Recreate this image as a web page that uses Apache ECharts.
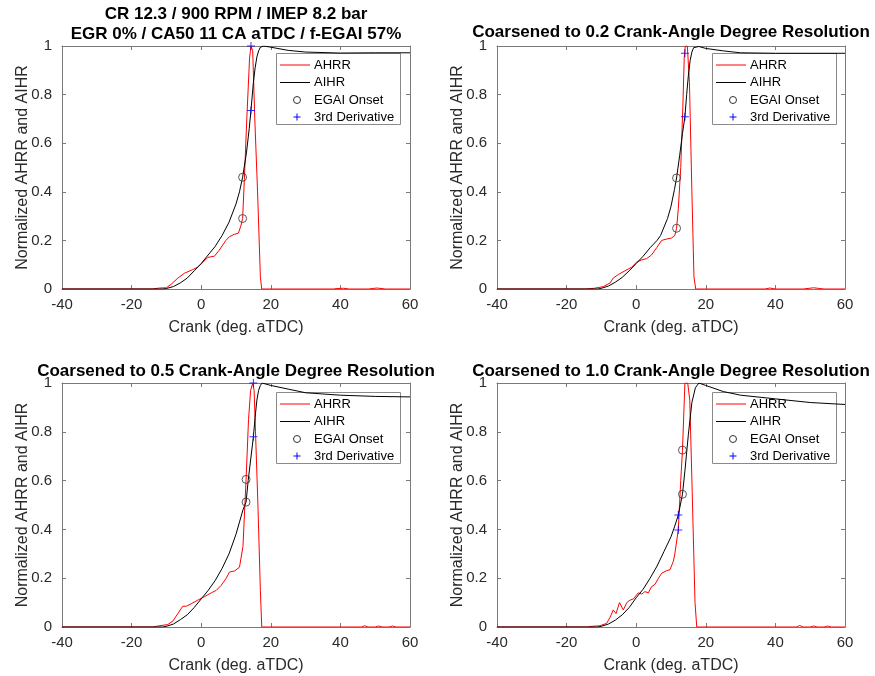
<!DOCTYPE html>
<html>
<head>
<meta charset="utf-8">
<script src="https://cdn.jsdelivr.net/npm/echarts@6/dist/echarts.min.js"></script>
<style>html,body{margin:0;padding:0;background:#fff;}#c{width:875px;height:676px;}</style>
</head>
<body>
<div id="c"></div>
<script>
// ---------- data ----------
const xTicks = [-40, -20, 0, 20, 40, 60];
const yTicks = [0, 0.2, 0.4, 0.6, 0.8, 1];
const seriesNames = ['AHRR', 'AIHR', 'EGAI Onset', '3rd Derivative'];
const titles = [
  'CR 12.3 / 900 RPM / IMEP 8.2 bar\nEGR 0% / CA50 11 CA aTDC / f-EGAI 57%',
  'Coarsened to 0.2 Crank-Angle Degree Resolution',
  'Coarsened to 0.5 Crank-Angle Degree Resolution',
  'Coarsened to 1.0 Crank-Angle Degree Resolution'
];

// Panel 1 (original)
const p1AhrrX = [-40,-14,-12,-10,-8.6,-6.7,-4.8,-2.4,-1,0.5,1.9,3.8,5.2,7.1,8.1,9.5,10.7,11.4,11.9,12.4,13.1,13.9,14.3,14.8,15.4,16.2,17.0,17.4,38,39,40.9,42.5,48,50.5,53,60];
const p1AhrrY = [0,0,0.004,0.005,0.02,0.045,0.065,0.08,0.09,0.11,0.13,0.135,0.16,0.2,0.215,0.225,0.23,0.26,0.29,0.45,0.7,0.95,1.0,0.98,0.7,0.4,0.05,0,0,0.002,0.003,0,0,0.004,0,0];
const p1AihrX = [-40,-11,-10,-8,-6,-4,-2,0,2,4,6,8,10,11,11.9,13,13.8,14.3,15,15.5,16,16.5,17,18,20,25,30,40,50,60];
const p1AihrY = [0,0,0.002,0.01,0.025,0.045,0.075,0.105,0.14,0.175,0.22,0.275,0.35,0.40,0.46,0.56,0.66,0.735,0.85,0.91,0.955,0.98,0.995,1.0,0.995,0.982,0.975,0.971,0.972,0.972];
const p1OnsetX = [11.9, 11.9];
const p1OnsetY = [0.46, 0.29];
const p1DerivX = [14.3, 14.3];
const p1DerivY = [1.0, 0.735];

// Panel 2 (0.2 CAD)
const p2AhrrX = [-40,-14.5,-12,-9.4,-7.5,-6.6,-5.1,-3.2,-1.3,0.1,1.6,3,4.4,5.9,7.3,8.6,10.2,11.1,11.6,12.1,12.8,13.4,13.8,14.1,14.7,15.3,16.0,16.6,17.1,37,38.4,40,48,51,54,60];
const p2AhrrY = [0,0,0.003,0.01,0.025,0.045,0.06,0.075,0.09,0.11,0.12,0.125,0.14,0.17,0.2,0.205,0.21,0.22,0.25,0.33,0.5,0.75,0.95,1.0,1.0,0.85,0.4,0.05,0,0,0.004,0,0,0.005,0,0];
const p2AihrX = [-40,-11,-10,-8,-6,-4,-2,0,2,4,6,7,8,9,10,11,11.6,12.5,13.3,14.0,14.5,15,15.5,16,16.5,17,18,20,25,30,40,50,60];
const p2AihrY = [0,0,0.003,0.012,0.028,0.048,0.075,0.105,0.135,0.17,0.2,0.22,0.255,0.29,0.34,0.41,0.457,0.55,0.64,0.709,0.8,0.88,0.94,0.975,0.993,1.0,0.998,0.99,0.98,0.972,0.97,0.97,0.97];
const p2OnsetX = [11.6, 11.6];
const p2OnsetY = [0.457, 0.25];
const p2DerivX = [14.0, 14.0];
const p2DerivY = [0.97, 0.709];

// Panel 3 (0.5 CAD)
const p3AhrrX = [-40,-14,-12.9,-9.6,-8.1,-6.7,-5.3,-4.3,-2.9,-1,1,2.9,4.3,5.7,7.2,8.1,9.6,11,12,12.9,13.6,14.2,14.8,15.2,15.6,16.3,17.0,17.4,46,47,48,50,51,52,54,55,56,60];
const p3AhrrY = [0,0,0.003,0.01,0.025,0.055,0.085,0.085,0.095,0.11,0.125,0.14,0.15,0.17,0.2,0.225,0.23,0.245,0.33,0.605,0.85,0.97,1.0,0.97,0.8,0.5,0.15,0,0,0.005,0,0,0.004,0,0,0.004,0,0];
const p3AihrX = [-40,-11,-10,-8,-6,-4,-2,0,2,4,6,8,10,11,12,12.9,13.5,14,15,15.5,16,16.5,17,17.5,20,25,30,40,50,60];
const p3AihrY = [0,0,0.003,0.012,0.03,0.05,0.08,0.115,0.15,0.19,0.24,0.3,0.38,0.43,0.48,0.512,0.6,0.66,0.78,0.86,0.93,0.97,0.99,1.0,0.99,0.975,0.96,0.95,0.945,0.943];
const p3OnsetX = [12.9, 12.9];
const p3OnsetY = [0.605, 0.512];
const p3DerivX = [15.0, 15.0];
const p3DerivY = [1.0, 0.78];

// Panel 4 (1.0 CAD)
const p4AhrrX = [-40,-14,-13.3,-10.4,-8.5,-7.5,-6.6,-5.8,-4.8,-3.7,-2.7,-1.8,-0.8,0.6,1.6,2.5,3.5,4.4,5.4,6.4,7.3,8.6,9.7,10.7,11.1,12.1,12.8,13.3,14.0,14.8,15.4,16.1,16.9,17.4,46,47,48,50,51,52,54,55,56,60];
const p4AhrrY = [0,0,0.002,0.005,0.015,0.04,0.07,0.055,0.1,0.07,0.1,0.11,0.115,0.14,0.135,0.145,0.14,0.165,0.175,0.2,0.22,0.23,0.235,0.27,0.3,0.398,0.6,0.725,1.0,1.0,0.93,0.55,0.1,0,0,0.006,0,0,0.004,0,0,0.004,0,0];
const p4AihrX = [-40,-11,-10,-8,-6,-4,-2,0,2,4,6,8,10,11,12.1,13.3,14,15,16,17,18,20,25,30,40,50,60];
const p4AihrY = [0,0,0.003,0.012,0.028,0.05,0.08,0.12,0.155,0.2,0.25,0.31,0.37,0.41,0.459,0.544,0.64,0.79,0.92,0.98,1.0,0.99,0.965,0.95,0.935,0.92,0.912];
const p4OnsetX = [13.3, 13.3];
const p4OnsetY = [0.725, 0.544];
const p4DerivX = [12.1, 12.1];
const p4DerivY = [0.459, 0.398];

// ---------- build ----------
const panels = [
  {ahrr:[p1AhrrX,p1AhrrY], aihr:[p1AihrX,p1AihrY], onset:[p1OnsetX,p1OnsetY], deriv:[p1DerivX,p1DerivY]},
  {ahrr:[p2AhrrX,p2AhrrY], aihr:[p2AihrX,p2AihrY], onset:[p2OnsetX,p2OnsetY], deriv:[p2DerivX,p2DerivY]},
  {ahrr:[p3AhrrX,p3AhrrY], aihr:[p3AihrX,p3AihrY], onset:[p3OnsetX,p3OnsetY], deriv:[p3DerivX,p3DerivY]},
  {ahrr:[p4AhrrX,p4AhrrY], aihr:[p4AihrX,p4AihrY], onset:[p4OnsetX,p4OnsetY], deriv:[p4DerivX,p4DerivY]}
];
const zip = (a) => a[0].map((x, i) => [x, a[1][i]]);

const FONT = '"Liberation Sans", Arial, Helvetica, sans-serif';
const AX = '#7a7a7a';
const LBL = '#2a2a2a';
const RED = '#ff0000', BLACK = '#000000', BLUE = '#0000ff', MARK = '#333333';
const gridPos = [
  {left: 62, top: 46, width: 348, height: 243},
  {left: 497, top: 46, width: 348, height: 243},
  {left: 62, top: 383, width: 348, height: 244},
  {left: 497, top: 383, width: 348, height: 244}
];
const legendPos = [[276, 53], [712, 53], [276, 392], [712, 392]];
const titleCenters = [[236, 4, 'top'], [671, 32, 'middle'], [236, 371, 'middle'], [671, 371, 'middle']];

const grids = [], xAxes = [], yAxes = [], series = [], graphics = [];
const plusPath = 'path://M0,3.5H8V4.5H0Z M3.5,0H4.5V8H3.5Z';

function legendGroup(lx, ly) {
  const rows = [12, 29.5, 47, 64];
  const ch = [
    {type: 'rect', shape: {x: 0.5, y: 0.5, width: 124, height: 71},
      style: {fill: '#fff', stroke: '#8a8a8a', lineWidth: 1}},
    {type: 'line', shape: {x1: 4, y1: rows[0], x2: 34, y2: rows[0]}, style: {stroke: RED, lineWidth: 1}},
    {type: 'line', shape: {x1: 4, y1: rows[1], x2: 34, y2: rows[1]}, style: {stroke: BLACK, lineWidth: 1}},
    {type: 'circle', shape: {cx: 21, cy: rows[2], r: 3.5}, style: {fill: 'none', stroke: MARK, lineWidth: 1}},
    {type: 'line', shape: {x1: 17.5, y1: rows[3], x2: 24.5, y2: rows[3]}, style: {stroke: BLUE, lineWidth: 1}},
    {type: 'line', shape: {x1: 21, y1: rows[3] - 3.5, x2: 21, y2: rows[3] + 3.5}, style: {stroke: BLUE, lineWidth: 1}}
  ];
  seriesNames.forEach((n, k) => {
    ch.push({type: 'text', x: 38, y: rows[k],
      style: {text: n, fill: '#000', font: '13px ' + FONT, textVerticalAlign: 'middle', textAlign: 'left'}});
  });
  return {type: 'group', x: lx, y: ly, z: 100, silent: true, children: ch};
}

panels.forEach((p, i) => {
  grids.push(Object.assign({containLabel: false, show: false}, gridPos[i]));
  const axLine = {show: true, onZero: false, lineStyle: {color: AX, width: 1}};
  const tick = {show: true, inside: true, length: 4, lineStyle: {color: AX}};
  xAxes.push({
    gridIndex: i, type: 'value', position: 'bottom', min: xTicks[0], max: xTicks[xTicks.length - 1], interval: 20,
    axisLine: axLine, axisTick: tick, splitLine: {show: false},
    axisLabel: {fontSize: 15, color: LBL, fontFamily: FONT, margin: 8},
    name: 'Crank (deg. aTDC)', nameLocation: 'middle', nameGap: 31, nameMoveOverlap: false,
    nameTextStyle: {fontSize: 16, color: LBL, fontFamily: FONT}
  });
  xAxes.push({
    gridIndex: i, type: 'value', position: 'top', min: xTicks[0], max: xTicks[xTicks.length - 1], interval: 20,
    axisLine: axLine, axisTick: tick, splitLine: {show: false}, axisLabel: {show: false}
  });
  yAxes.push({
    gridIndex: i, type: 'value', position: 'left', min: yTicks[0], max: yTicks[yTicks.length - 1], interval: 0.2,
    axisLine: axLine, axisTick: tick, splitLine: {show: false},
    axisLabel: {fontSize: 15, color: LBL, fontFamily: FONT, margin: 10,
      formatter: v => (v === 0 || v === 1) ? String(v) : v.toFixed(1)},
    name: 'Normalized AHRR and AIHR', nameLocation: 'middle', nameGap: 31, nameRotate: 90, nameMoveOverlap: false,
    nameTextStyle: {fontSize: 16, color: LBL, fontFamily: FONT}
  });
  yAxes.push({
    gridIndex: i, type: 'value', position: 'right', min: yTicks[0], max: yTicks[yTicks.length - 1], interval: 0.2,
    axisLine: axLine, axisTick: tick, splitLine: {show: false}, axisLabel: {show: false}
  });
  const xi = i * 2, yi = i * 2;
  series.push({
    name: seriesNames[0], type: 'line', xAxisIndex: xi, yAxisIndex: yi, data: zip(p.ahrr),
    symbol: 'none', showSymbol: false, color: RED, lineStyle: {width: 1, color: RED}, z: 2, silent: true
  });
  series.push({
    name: seriesNames[1], type: 'line', xAxisIndex: xi, yAxisIndex: yi, data: zip(p.aihr),
    symbol: 'none', showSymbol: false, color: BLACK, lineStyle: {width: 1, color: BLACK}, z: 2, silent: true
  });
  series.push({
    name: seriesNames[2], type: 'scatter', xAxisIndex: xi, yAxisIndex: yi, data: zip(p.onset),
    symbol: 'circle', symbolSize: 8, itemStyle: {color: 'transparent', borderColor: MARK, borderWidth: 1}, z: 3, silent: true
  });
  series.push({
    name: seriesNames[3], type: 'scatter', xAxisIndex: xi, yAxisIndex: yi, data: zip(p.deriv),
    symbol: plusPath, symbolSize: 8, itemStyle: {color: BLUE}, z: 3, silent: true
  });
  graphics.push(legendGroup(legendPos[i][0], legendPos[i][1]));
  graphics.push({
    type: 'text', x: titleCenters[i][0], y: titleCenters[i][1], z: 10,
    style: {text: titles[i], fill: '#000', font: 'bold 17px ' + FONT, textAlign: 'center',
      textVerticalAlign: titleCenters[i][2], lineHeight: 20}
  });
});

const chart = echarts.init(document.getElementById('c'), null, {renderer: 'canvas'});
chart.setOption({
  animation: false,
  backgroundColor: '#fff',
  grid: grids, xAxis: xAxes, yAxis: yAxes, series: series, graphic: graphics
});
</script>
</body>
</html>
